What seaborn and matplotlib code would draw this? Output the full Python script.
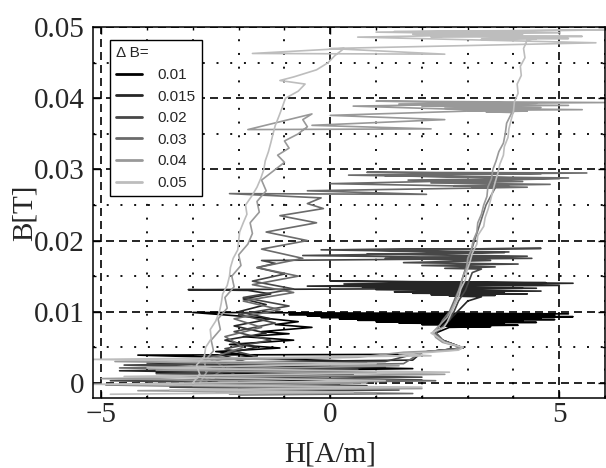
import numpy as np
import pandas as pd
import matplotlib
matplotlib.use('Agg')
import matplotlib.pyplot as plt
import matplotlib.ticker as ticker
import seaborn as sns

# delta B levels and their grey tones
levels = ['0.01', '0.015', '0.02', '0.03', '0.04', '0.05']
greys = ['#000000', '#262626', '#474747', '#6b6b6b', '#999999', '#bdbdbd']

# each path: rising branch -> noisy band at the top -> falling branch -> noisy band at the bottom
h_001 = [-2.9, -2.4, -2.7, -2.0, -2.6, -1.6, -2.5, -1.1, -2.2, -0.8, -1.9, -0.9, -1.5, -0.4, -1.2, -0.7, -1.6,
         -3.0, 5.2, -0.9, 4.9, -0.5, 5.3, -0.2, 4.6, 0.2, 4.9, 0.6, 4.2, 1.0, 4.5, 1.5, 3.8, 2.0, 4.1, 2.4, 3.5,
         2.6, 2.3, 2.45, 2.9, 2.0,
         1.5, -4.2, 0.8, -3.0, 1.8, -3.8, 0.5, -2.5, 1.2, -2.0]
b_001 = [0.0005, 0.0012, 0.002, 0.0026, 0.0032, 0.0038, 0.0044, 0.0049, 0.0054, 0.006, 0.0065, 0.0069, 0.0072, 0.0078, 0.0082, 0.0086, 0.0092,
         0.0099, 0.0097, 0.0096, 0.0095, 0.0094, 0.0093, 0.0092, 0.0091, 0.0090, 0.0089, 0.0088, 0.0087, 0.0086, 0.0085, 0.0084, 0.0083, 0.0082, 0.0081, 0.0080, 0.0079,
         0.0078, 0.007, 0.006, 0.0049, 0.0043,
         0.0040, 0.0039, 0.0030, 0.0026, 0.0020, 0.0015, 0.0010, 0.0006, 0.0003, 0.0002]

h_0015 = [-2.7, -2.3, -2.55, -1.9, -2.4, -1.6, -2.3, -1.4, -2.1, -1.3, -2.0, -1.4, -1.9, -1.3, -1.8,
          -3.1, 4.5, -0.5, 5.3, 0.0, 4.7, 0.3, 5.0, 0.7, 4.2, 1.0, 4.6, 1.4, 3.8, 1.8, 4.3, 2.2, 3.6, 2.6, 3.3,
          3.0, 2.85, 2.7, 2.6, 2.3, 2.45, 2.9, 2.0,
          1.8, -4.0, 1.2, -4.6, 0.5, -3.2, 2.0, -3.0, 0.8, -2.0]
b_0015 = [0.0, 0.001, 0.002, 0.003, 0.004, 0.005, 0.006, 0.007, 0.008, 0.009, 0.010, 0.011, 0.0118, 0.0125, 0.013,
          0.0131, 0.0133, 0.0136, 0.0140, 0.0143, 0.0141, 0.0139, 0.0137, 0.0135, 0.0133, 0.0131, 0.0129, 0.0128, 0.0127, 0.0126, 0.0125, 0.0124, 0.0123, 0.0122, 0.0121,
          0.0115, 0.0105, 0.0095, 0.0088, 0.007, 0.006, 0.0049, 0.0043,
          0.0032, 0.0028, 0.0022, 0.0017, 0.0012, 0.0008, 0.0004, 0.0, -0.0004, -0.0008]

h_002 = [-2.6, -2.1, -2.4, -1.6, -2.3, -1.3, -2.1, -1.2, -2.0, -0.9, -1.9, -0.8, -1.7, -1.0, -1.6, -1.2, -1.5,
         -1.5, 4.4, -0.6, 3.8, -0.2, 4.6, 0.3, 3.9, 0.8, 4.3, 1.2, 3.5, 1.6, 4.1, 2.0, 3.6, 2.5, 3.3,
         3.1, 2.95, 2.8, 2.7, 2.6, 2.3, 2.45, 2.9, 2.0,
         1.2, -4.5, 0.6, -3.8, 2.0, -4.8, 0.2, -3.5, 1.5, -2.5]
b_002 = [0.0, 0.0012, 0.0025, 0.0037, 0.0048, 0.006, 0.0072, 0.0084, 0.0096, 0.0108, 0.012, 0.0132, 0.0143, 0.0153, 0.0162, 0.0168, 0.0172,
         0.0172, 0.0175, 0.0179, 0.0183, 0.0187, 0.0189, 0.0187, 0.0184, 0.0181, 0.0178, 0.0175, 0.0172, 0.0169, 0.0167, 0.0165, 0.0163, 0.0161, 0.0160,
         0.0155, 0.013, 0.0115, 0.010, 0.0088, 0.007, 0.006, 0.0049, 0.0043,
         0.0030, 0.0025, 0.0019, 0.0013, 0.0008, 0.0003, -0.0002, -0.0006, -0.0010, -0.0012]

h_003 = [-2.8, -2.3, -2.6, -1.9, -2.3, -1.5, -2.1, -1.1, -1.9, -0.8, -1.7, -0.7, -1.6, -0.6, -1.5,
         -0.5, -1.4, -0.3, -1.1, -0.15, -0.5, -0.2,
         -2.2, 2.1, -0.5, 4.3, 0.0, 5.0, 0.4, 5.6, 0.8, 4.6, 1.2, 5.2, 1.7, 4.2, 2.2, 4.8, 2.7, 3.9, 3.1, 3.6,
         3.4, 3.25, 3.1, 2.95, 2.8, 2.6, 2.45, 2.3, 2.45, 2.9, 2.0,
         1.6, -4.6, 1.0, -3.5, 2.3, -4.9, 0.5, -3.0, 1.8, -2.0]
b_003 = [0.0, 0.002, 0.0035, 0.005, 0.0065, 0.0078, 0.009, 0.0103, 0.0115, 0.0127, 0.0138, 0.015, 0.0162, 0.0175, 0.0188,
         0.020, 0.0212, 0.0225, 0.0235, 0.0245, 0.0252, 0.026,
         0.0266, 0.0265, 0.0270, 0.0275, 0.0280, 0.0287, 0.0292, 0.0295, 0.0296, 0.0294, 0.0291, 0.0288, 0.0285, 0.0283, 0.0281, 0.0279, 0.0277, 0.0276, 0.0275, 0.0274,
         0.025, 0.022, 0.019, 0.016, 0.013, 0.010, 0.0088, 0.007, 0.006, 0.0049, 0.0043,
         0.0027, 0.0021, 0.0015, 0.0009, 0.0003, -0.0003, -0.0008, -0.0012, -0.0015, -0.0017]

h_004 = [-2.85, -2.7, -2.75, -2.55, -2.6, -2.4, -2.45, -2.25, -2.3, -2.1, -2.15, -1.95, -2.0, -1.8, -1.7,
         -1.75, -1.55, -1.6, -1.4, -1.5, -1.2, -1.0, -1.15, -0.9, -1.0, -0.7, -0.5, -0.6, -0.4,
         -1.8, 2.2, -0.4, 2.5, 0.0, 3.5, 0.5, 4.5, 1.0, 6.0, 1.5, 5.2, 2.0, 4.6, 2.5, 5.5, 3.0, 4.3, 3.4, 4.0,
         3.95, 3.85, 3.82, 3.78, 3.68, 3.62, 3.55, 3.52, 3.44, 3.42, 3.35, 3.30, 3.22, 3.20, 3.12, 3.08,
         3.00, 2.98, 2.90, 2.85, 2.78, 2.72, 2.62, 2.55, 2.40, 2.25, 2.30, 2.45, 2.85, 2.70, 1.6,
         0.6, -4.7, 1.5, -3.8, 2.5, -5.0, 0.8, -3.0, 2.0, -4.2, 1.0, -2.2]
b_004 = [0.0, 0.0015, 0.003, 0.0045, 0.006, 0.0075, 0.009, 0.0105, 0.012, 0.0135, 0.015, 0.0165, 0.018, 0.0195, 0.021,
         0.0225, 0.024, 0.0255, 0.027, 0.0285, 0.030, 0.031, 0.032, 0.033, 0.034, 0.035, 0.036, 0.037, 0.0378,
         0.0356, 0.0357, 0.0362, 0.0370, 0.0376, 0.0383, 0.0389, 0.0393, 0.0396, 0.0394, 0.0392, 0.0390, 0.0389, 0.0387, 0.0386, 0.0384, 0.0383, 0.0382, 0.0381, 0.0380,
         0.0378, 0.0365, 0.035, 0.0337, 0.0325, 0.0312, 0.030, 0.0287, 0.0275, 0.0262, 0.025, 0.0237, 0.0225, 0.0212, 0.020, 0.0187,
         0.0175, 0.0162, 0.015, 0.0137, 0.0125, 0.0112, 0.010, 0.0092, 0.0082, 0.0072, 0.0064, 0.0057, 0.0050, 0.0046, 0.0043,
         0.0036, 0.0030, 0.0024, 0.0018, 0.0012, 0.0006, 0.0, -0.0004, -0.0008, -0.0011, -0.0014, -0.0016]

h_005 = [-3.0, -2.85, -2.92, -2.75, -2.72, -2.6, -2.62, -2.5, -2.42, -2.38, -2.35, -2.25, -2.2, -2.18,
         -2.12, -2.02, -2.0, -1.98, -1.9, -1.82, -1.85, -1.72, -1.6, -1.52, -1.45, -1.42, -1.35,
         -1.3, -1.25, -1.2, -1.12, -1.05, -0.98, -0.7, -0.55, -1.1, -0.8, -0.3, -0.05, 0.1, 0.3,
         -1.7, 2.5, 0.0, 5.8, 0.6, 4.2, 1.0, 6.0, 1.4, 5.0, 1.8, 2.6, 2.2, 5.5, 2.8, 4.6, 3.3, 5.2, 3.8, 4.5,
         4.3, 4.22, 4.25, 4.15, 4.17, 4.08, 4.1, 4.02, 4.0, 3.95, 3.9, 3.88, 3.8, 3.78, 3.7, 3.66,
         3.6, 3.55, 3.5, 3.45, 3.38, 3.35, 3.22, 3.2, 3.1, 3.05, 2.98, 2.95, 2.85, 2.8, 2.7, 2.62,
         2.55, 2.48, 2.2, 2.35, 2.5, 2.9, 2.8, 2.2, 1.5,
         2.2, -5.2, 1.0, -4.0, 2.6, -4.5, 1.2, -5.2, 2.0, -3.5, 0.5, -4.8]
b_005 = [0.0, 0.0012, 0.0025, 0.0037, 0.005, 0.0062, 0.0075, 0.0087, 0.010, 0.0112, 0.0125, 0.0137, 0.015, 0.0162,
         0.0175, 0.0187, 0.020, 0.0212, 0.0225, 0.0237, 0.025, 0.0262, 0.0275, 0.0287, 0.030, 0.0312, 0.0325,
         0.0337, 0.035, 0.0362, 0.0375, 0.0387, 0.040, 0.041, 0.042, 0.0425, 0.043, 0.044, 0.045, 0.046, 0.047,
         0.0463, 0.0462, 0.0470, 0.0478, 0.0486, 0.0490, 0.0493, 0.0496, 0.0494, 0.0492, 0.0490, 0.0488, 0.0486, 0.0487, 0.0488, 0.0485, 0.0483, 0.0484, 0.0485, 0.0484,
         0.0482, 0.047, 0.0457, 0.0445, 0.0432, 0.042, 0.0407, 0.0395, 0.0382, 0.037, 0.0357, 0.0345, 0.0332, 0.032, 0.0307, 0.0295,
         0.0282, 0.027, 0.0257, 0.0245, 0.0232, 0.022, 0.0207, 0.0195, 0.0182, 0.017, 0.0157, 0.0145, 0.0132, 0.012, 0.0107, 0.0095,
         0.0085, 0.0078, 0.007, 0.0064, 0.0057, 0.0050, 0.0046, 0.0043, 0.0041,
         0.0038, 0.0033, 0.0027, 0.0021, 0.0015, 0.0009, 0.0003, -0.0002, -0.0006, -0.0010, -0.0013, -0.0016]

paths = [(h_001, b_001), (h_0015, b_0015), (h_002, b_002),
         (h_003, b_003), (h_004, b_004), (h_005, b_005)]

frames = []
for lev, (h, b) in zip(levels, paths):
    frames.append(pd.DataFrame({'H': h, 'B': b, 'dB': lev}))
df = pd.concat(frames, ignore_index=True)

sns.set_style('ticks')
serif = 'Liberation Serif'

fig = plt.figure(figsize=(6.06, 4.68), dpi=100)
ax = fig.add_axes([0.1535, 0.150, 0.845, 0.792])

sns.lineplot(data=df, x='H', y='B', hue='dB', hue_order=levels, palette=greys,
             sort=False, estimator=None, lw=1.2, ax=ax)

ax.set_xlim(-5.18, 6.0)
ax.set_ylim(-0.0021, 0.05)

# grid: dashed on the major ticks, dotted on the minor ones
ax.xaxis.set_major_locator(ticker.MultipleLocator(5))
ax.xaxis.set_minor_locator(ticker.MultipleLocator(1))
ax.yaxis.set_major_locator(ticker.MultipleLocator(0.01))
ax.yaxis.set_minor_locator(ticker.MultipleLocator(0.005))
ax.yaxis.set_major_formatter(ticker.FuncFormatter(lambda v, p: '0' if abs(v) < 1e-9 else '%.2f' % v))
ax.grid(which='major', color='black', lw=1.2, ls=(0, (4.8, 3.0)))
ax.grid(which='minor', color='black', lw=1.3, ls=(0, (1.1, 6.5)))
ax.set_axisbelow(True)

ax.tick_params(which='both', direction='in', top=True, right=True, color='black', width=1)
ax.tick_params(which='major', length=5)
ax.tick_params(which='minor', length=2.5)
ax.tick_params(axis='y', pad=6)
ax.tick_params(axis='x', pad=3)
for lab in ax.get_xticklabels() + ax.get_yticklabels():
    lab.set_fontfamily(serif)
    lab.set_fontsize(21)
for s in ax.spines.values():
    s.set_linewidth(1.1)
    s.set_color('black')

ax.set_xlabel('H[A/m]', fontsize=21, family=serif)
ax.set_ylabel('B[T]', fontsize=21, family=serif)
ax.xaxis.set_label_coords(0.463, -0.118)
ax.yaxis.set_label_coords(-0.109, 0.50)

handles, labels = ax.get_legend_handles_labels()
for hd in handles:
    hd.set_linewidth(2)
leg = ax.legend(handles, labels, title='\u0394 B=', loc='upper left',
                bbox_to_anchor=(0.033, 0.965), borderaxespad=0, frameon=True,
                fancybox=False, edgecolor='black', framealpha=1,
                prop={'family': 'Liberation Sans', 'size': 11},
                title_fontproperties={'family': 'Liberation Sans', 'size': 11},
                alignment='left', labelspacing=0.5, handlelength=1.7, handletextpad=1.0,
                borderpad=0.4)
leg.get_frame().set_linewidth(1.0)

fig.savefig('out.png', dpi=100)
